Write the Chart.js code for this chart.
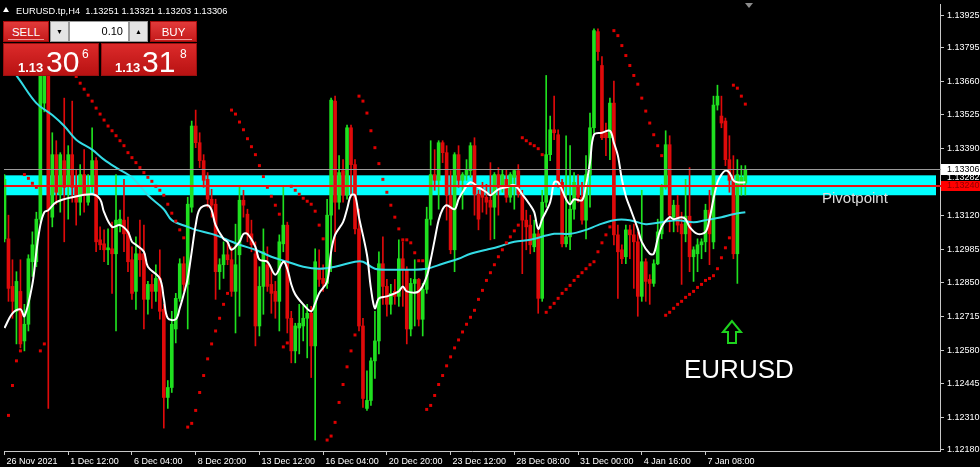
<!DOCTYPE html>
<html>
<head>
<meta charset="utf-8">
<title>EURUSD H4</title>
<script src="https://cdn.jsdelivr.net/npm/chart.js@4.4.1/dist/chart.umd.min.js"></script>
<style>
  body { margin: 0; background: #000; overflow: hidden; }
  #wrap { position: relative; width: 980px; height: 467px; font-family: 'Liberation Sans', Arial, sans-serif; }
  #chart { position: absolute; left: 0; top: 0; display: block; }
  .abs { position: absolute; white-space: pre; line-height: 1; }
  #hdr { left: 16px; top: 6px; color: #fff; font-size: 9.3px; line-height: 11px; }
  #hdrTri { left: 3px; top: 7px; width: 0; height: 0; border-left: 3px solid transparent; border-right: 3px solid transparent; border-bottom: 5px solid #fff; }
  #shiftTri { left: 745px; top: 3px; width: 0; height: 0; border-left: 4px solid transparent; border-right: 4px solid transparent; border-top: 5px solid #8c8c8c; }
  .btn { position: absolute; top: 21px; height: 21px; color: #fff; font-size: 11.5px; line-height: 20px; text-align: center;
         background: linear-gradient(#e23a3a, #c41a1a); box-sizing: border-box; border: 1px solid #a80c0c; }
  .btn::after { content: ''; position: absolute; left: 4px; right: 4px; bottom: 1px; height: 1px; background: #f09a9a; }
  .spin { position: absolute; top: 21px; height: 21px; width: 19px; background: #e4e4e4; box-sizing: border-box; border: 1px solid #9a9a9a;
          font-size: 7px; color: #000; text-align: center; line-height: 19px; }
  #lot { position: absolute; left: 69px; top: 21px; width: 60px; height: 21px; background: #fff; box-sizing: border-box; border: 1px solid #9a9a9a;
         font-size: 11px; color: #000; text-align: right; padding-right: 5px; line-height: 19px; }
  .quote { position: absolute; top: 43px; height: 33px; width: 96px; box-sizing: border-box; border: 1px solid #9a1010;
           background: linear-gradient(#dc2a2a, #b81212); color: #fff; }
  .quote .big { position: absolute; top: 1px; font-size: 30px; }
  .quote .pre { position: absolute; top: 16px; font-size: 13px; font-weight: bold; }
  .quote .sup { position: absolute; top: 3px; font-size: 12px; }
  #pivotTxt { left: 822px; top: 190px; color: #dcdcdc; font-size: 15px; }
  #symTxt { left: 684px; top: 356px; color: #fff; font-size: 26px; }
  #arrow { position: absolute; left: 720px; top: 319px; }
</style>
</head>
<body>
<div id="wrap">
  <canvas id="chart" width="980" height="467"></canvas>

  <div id="hdrTri" class="abs"></div>
  <div id="hdr" class="abs">EURUSD.tp,H4  1.13251 1.13321 1.13203 1.13306</div>
  <div id="shiftTri" class="abs"></div>

  <div class="btn" style="left:3px;width:46px;">SELL</div>
  <div class="spin" style="left:50px;">&#9660;</div>
  <div id="lot">0.10</div>
  <div class="spin" style="left:129px;">&#9650;</div>
  <div class="btn" style="left:150px;width:47px;">BUY</div>

  <div class="quote" style="left:3px;">
    <span class="pre" style="left:14px;">1.13</span>
    <span class="big" style="left:42px;">30</span>
    <span class="sup" style="left:78px;">6</span>
  </div>
  <div class="quote" style="left:101px;">
    <span class="pre" style="left:13px;">1.13</span>
    <span class="big" style="left:40px;">31</span>
    <span class="sup" style="left:78px;">8</span>
  </div>

  <div id="pivotTxt" class="abs">Pivotpoint</div>
  <div id="symTxt" class="abs">EURUSD</div>
  <svg id="arrow" width="24" height="27" viewBox="0 0 24 27">
    <polygon points="12,2 3,13 8,13 8,24 16,24 16,13 21,13" fill="none" stroke="#1ed21e" stroke-width="2"/>
  </svg>
</div>

<script>
// H4 bars, 26 Nov 2021 20:00 .. 10 Jan 2022
const barOpen = [
  1.13027,1.13027,1.12836,1.12736,1.12816,1.12617,1.12684,1.12935,1.12935,1.13106,
  1.13572,1.13779,1.13114,1.13365,1.13206,1.13341,1.13242,1.13365,1.13234,1.13174,
  1.13285,1.13174,1.13242,1.13341,1.13023,1.13007,1.12983,1.12987,1.12967,1.13082,
  1.13102,1.13055,1.12943,1.12816,1.12967,1.12967,1.12784,1.12844,1.12816,1.12868,
  1.12744,1.12390,1.12430,1.12665,1.12788,1.12927,1.12844,1.13154,1.13480,1.13413,
  1.13341,1.13266,1.13186,1.13166,1.12895,1.12923,1.12963,1.12943,1.12816,1.12963,
  1.13182,1.13126,1.13047,1.12967,1.12677,1.12836,1.12923,1.12844,1.12816,1.12776,
  1.13007,1.13082,1.12708,1.12577,1.12669,1.12677,1.12708,1.12728,1.12597,1.12903,
  1.12868,1.12848,1.13122,1.13580,1.13174,1.13301,1.13202,1.13473,1.13325,1.13067,
  1.12677,1.12346,1.12378,1.12537,1.12617,1.12927,1.12836,1.12764,1.12816,1.12796,
  1.12947,1.12903,1.12665,1.12848,1.12864,1.12704,1.12824,1.13106,1.13285,1.13262,
  1.13413,1.13373,1.13202,1.12983,1.13365,1.13262,1.13285,1.13301,1.13401,1.13206,
  1.13226,1.13194,1.13182,1.13154,1.13285,1.13234,1.13266,1.13194,1.13274,1.13301,
  1.13206,1.13102,1.13082,1.12995,1.13047,1.12788,1.13174,1.13365,1.13465,1.13445,
  1.13254,1.13007,1.13035,1.13146,1.13242,1.13194,1.13102,1.13285,1.13473,1.13859,
  1.13723,1.13453,1.13433,1.13572,1.13043,1.12983,1.12955,1.13063,1.13043,1.13015,
  1.12796,1.12935,1.12864,1.12848,1.12927,1.13047,1.13234,1.13405,1.13114,1.13162,
  1.13086,1.13047,1.13118,1.12955,1.12967,1.13003,1.13015,1.13142,1.13015,1.13564,
  1.13520,1.13500,1.13345,1.13262,1.12967,1.13242,1.13251
];
const barHigh = [
  1.13285,1.13122,1.12943,1.12895,1.12943,1.12764,1.12963,1.13055,1.13134,1.13751,
  1.13791,1.13791,1.13453,1.13421,1.13373,1.13592,1.13401,1.13580,1.13305,1.13325,
  1.13385,1.13285,1.13473,1.13353,1.13075,1.13063,1.13067,1.13094,1.13285,1.13142,
  1.13266,1.13114,1.12995,1.13035,1.13102,1.13082,1.12856,1.12883,1.12923,1.12983,
  1.12764,1.12458,1.12736,1.12808,1.12947,1.12955,1.13194,1.13500,1.13544,1.13453,
  1.13365,1.13293,1.13226,1.13186,1.12947,1.13015,1.13015,1.12995,1.13086,1.13234,
  1.13222,1.13146,1.13102,1.13015,1.12915,1.13067,1.12995,1.12907,1.12856,1.13043,
  1.13234,1.13094,1.12736,1.12688,1.12764,1.12764,1.12764,1.12756,1.12987,1.12983,
  1.12923,1.13186,1.13592,1.13600,1.13361,1.13345,1.13484,1.13484,1.13345,1.13146,
  1.12708,1.12497,1.12549,1.12736,1.12975,1.13035,1.12864,1.12844,1.12864,1.13023,
  1.13015,1.12915,1.12868,1.12943,1.12868,1.12848,1.13154,1.13421,1.13385,1.13421,
  1.13421,1.13401,1.13301,1.13373,1.13401,1.13293,1.13345,1.13413,1.13433,1.13222,
  1.13254,1.13246,1.13333,1.13293,1.13313,1.13305,1.13305,1.13293,1.13305,1.13325,
  1.13222,1.13142,1.13122,1.13102,1.13063,1.13222,1.13683,1.13520,1.13600,1.13465,
  1.13266,1.13441,1.13401,1.13293,1.13285,1.13254,1.13361,1.13532,1.13870,1.13870,
  1.13759,1.13492,1.13592,1.13660,1.13082,1.13003,1.13082,1.13082,1.13086,1.13055,
  1.13222,1.12947,1.12883,1.12943,1.13106,1.13246,1.13461,1.13441,1.13182,1.13202,
  1.13134,1.13266,1.13313,1.12995,1.13027,1.13027,1.13166,1.13222,1.13600,1.13644,
  1.13600,1.13512,1.13441,1.13361,1.13345,1.13321,1.13321
];
const barLow = [
  1.13015,1.12776,1.12708,1.12605,1.12589,1.12577,1.12657,1.12876,1.12915,1.13094,
  1.13537,1.12346,1.13075,1.13166,1.13134,1.13015,1.13106,1.13174,1.13082,1.13122,
  1.13134,1.13162,1.13214,1.12975,1.12983,1.12935,1.12923,1.12808,1.12657,1.13055,
  1.12975,1.12895,1.12784,1.12744,1.12876,1.12665,1.12724,1.12748,1.12776,1.12704,
  1.12267,1.12346,1.12410,1.12609,1.12776,1.12816,1.12665,1.13134,1.13393,1.13313,
  1.13234,1.13154,1.13114,1.12784,1.12824,1.12868,1.12923,1.12796,1.12649,1.12716,
  1.13114,1.13015,1.12975,1.12597,1.12637,1.12724,1.12816,1.12728,1.12708,1.12657,
  1.12975,1.12649,1.12529,1.12529,1.12565,1.12617,1.12549,1.12470,1.12219,1.12836,
  1.12816,1.12828,1.12895,1.12975,1.13146,1.13174,1.13186,1.13194,1.13047,1.12657,
  1.12350,1.12338,1.12358,1.12466,1.12565,1.12764,1.12716,1.12724,1.12764,1.12756,
  1.12756,1.12605,1.12637,1.12677,1.12677,1.12637,1.12808,1.13082,1.13222,1.13146,
  1.13333,1.13102,1.12967,1.12895,1.13234,1.13146,1.13262,1.13274,1.13122,1.13063,
  1.13134,1.13126,1.13023,1.13027,1.13122,1.13214,1.13174,1.13174,1.13146,1.13194,
  1.12887,1.12983,1.12967,1.12975,1.12728,1.12776,1.13154,1.13341,1.13425,1.13234,
  1.12995,1.12995,1.12983,1.13106,1.13174,1.13086,1.13027,1.13154,1.13453,1.13743,
  1.13425,1.13361,1.13345,1.13003,1.12788,1.12927,1.12927,1.12947,1.12828,1.12716,
  1.12776,1.12776,1.12764,1.12836,1.12923,1.13027,1.13226,1.13055,1.13055,1.13055,
  1.12844,1.13015,1.12895,1.12856,1.12895,1.12947,1.12975,1.12923,1.12987,1.13544,
  1.13473,1.13321,1.13214,1.12947,1.12848,1.13202,1.13203
];
const barClose = [
  1.13266,1.12828,1.12776,1.12856,1.12605,1.12684,1.12947,1.13003,1.13106,1.13731,
  1.13779,1.13146,1.13365,1.13214,1.13365,1.13234,1.13365,1.13234,1.13174,1.13285,
  1.13202,1.13242,1.13341,1.13015,1.13003,1.12983,1.12991,1.12967,1.13102,1.13106,
  1.13047,1.12935,1.12808,1.12967,1.12943,1.12784,1.12844,1.12816,1.12868,1.12736,
  1.12390,1.12430,1.12684,1.12788,1.12927,1.12844,1.13166,1.13480,1.13413,1.13341,
  1.13262,1.13186,1.13162,1.12895,1.12923,1.12963,1.12943,1.12816,1.12923,1.13182,
  1.13162,1.13047,1.13003,1.12677,1.12836,1.12975,1.12836,1.12808,1.12776,1.13015,
  1.13082,1.12708,1.12577,1.12677,1.12688,1.12708,1.12728,1.12597,1.12935,1.12864,
  1.12848,1.13122,1.13584,1.13174,1.13293,1.13202,1.13473,1.13325,1.13067,1.12677,
  1.12386,1.12378,1.12537,1.12617,1.12927,1.12836,1.12764,1.12808,1.12796,1.12947,
  1.12903,1.12665,1.12848,1.12864,1.12704,1.12824,1.13106,1.13285,1.13262,1.13413,
  1.13373,1.13202,1.12983,1.13365,1.13262,1.13285,1.13305,1.13401,1.13206,1.13106,
  1.13194,1.13174,1.13154,1.13285,1.13234,1.13285,1.13194,1.13285,1.13301,1.13206,
  1.13102,1.13075,1.13003,1.13047,1.12788,1.13174,1.13365,1.13465,1.13453,1.13254,
  1.13007,1.13035,1.13146,1.13254,1.13194,1.13102,1.13285,1.13473,1.13863,1.13779,
  1.13433,1.13433,1.13572,1.13043,1.12975,1.12947,1.13063,1.13043,1.13015,1.12796,
  1.12935,1.12856,1.12848,1.12927,1.13055,1.13234,1.13405,1.13122,1.13162,1.13082,
  1.13047,1.13118,1.12955,1.12983,1.13003,1.13015,1.13142,1.13047,1.13564,1.13600,
  1.13492,1.13345,1.13262,1.12967,1.13285,1.13274,1.13306
];

// Parabolic SAR, one dot per bar (null = not visible)
const sarValues = [
  null,1.12318,1.12438,1.12537,1.12577,1.13285,1.13270,1.13250,1.13234,1.12577,
  1.12605,1.13791,1.13787,1.13779,1.13767,1.13751,1.13731,1.13707,1.13679,1.13652,
  1.13628,1.13604,1.13580,1.13552,1.13528,1.13504,1.13480,1.13461,1.13441,1.13421,
  1.13401,1.13373,1.13353,1.13333,1.13313,1.13293,1.13274,1.13258,1.13238,1.13222,
  1.13202,1.13166,1.13130,1.13098,1.13063,1.13031,1.12271,1.12286,1.12338,1.12410,
  1.12478,1.12545,1.12605,1.12657,1.12708,1.12764,1.12808,1.13544,1.13528,1.13496,
  1.13465,1.13429,1.13397,1.13365,1.13321,1.13277,1.13234,1.13198,1.13162,1.13126,
  1.12593,1.12609,1.13238,1.13222,1.13206,1.13190,1.13178,1.13166,1.13138,1.13082,
  1.13027,1.12219,1.12235,1.12290,1.12370,1.12442,1.12513,1.12577,1.12641,1.13600,
  1.13580,1.13532,1.13461,1.13393,1.13329,1.13266,1.13214,1.13162,1.13114,1.13067,
  1.13023,1.13023,1.13011,1.12971,1.12939,1.12939,1.12342,1.12358,1.12398,1.12442,
  1.12478,1.12517,1.12553,1.12589,1.12621,1.12653,1.12684,1.12712,1.12740,1.12784,
  1.12820,1.12860,1.12891,1.12923,1.12955,1.12983,1.13011,1.13035,1.13059,1.13082,
  1.13433,1.13421,1.13409,1.13401,1.13389,1.13365,1.12732,1.12752,1.12768,1.12788,
  1.12808,1.12824,1.12840,1.12860,1.12876,1.12891,1.12907,1.12923,1.12935,1.12975,
  1.13011,1.13043,1.13075,1.13863,1.13843,1.13803,1.13763,1.13723,1.13683,1.13648,
  1.13592,1.13540,1.13492,1.13445,1.13401,1.13361,1.12720,1.12732,1.12748,1.12764,
  1.12776,1.12792,1.12804,1.12816,1.12832,1.12844,1.12860,1.12868,1.12879,1.12907,
  1.12951,1.12991,1.13031,1.13644,1.13632,1.13600,1.13568
];

// fast moving average (white), sampled along the curve
const fastMaBars = [0,2,4,5,7,8,9,10,11,13,17,22,24,25,27,29,31,32,33,35,36,39,40,41,43,44,45,46,47,48,49,51,52,53,55,56,57,59,60,61,
  63,64,66,68,70,71,72,73,75,77,78,79,81,82,83,85,86,87,88,89,91,92,93,94,96,99,100,101,104,106,107,108,109,110,111,113,114,115,117,119,
  121,122,124,126,128,130,132,133,134,135,137,138,139,141,142,143,145,146,147,148,150,152,153,154,155,156,157,159,160,162,163,164,165,167,168,170,171,172,174,176,
  177,178,179,180,181,182,183,184,186];
const fastMaValues = [1.12669,1.12728,1.12744,1.12716,1.12844,1.12975,1.13082,1.13134,1.13142,1.13174,1.13194,1.13206,1.13186,1.13134,1.13075,1.13082,1.13055,1.13015,1.13003,1.12975,
  1.12915,1.12868,1.12788,1.12708,1.12704,1.12748,1.12804,1.12868,1.12975,1.13082,1.13146,1.13162,1.13142,1.13082,1.13027,1.13015,1.12983,1.13015,1.13047,1.13047,
  1.12995,1.12943,1.12935,1.12883,1.12935,1.12907,1.12844,1.12804,1.12764,1.12736,1.12768,1.12808,1.12856,1.12975,1.13043,1.13094,1.13146,1.13202,1.13202,1.13114,
  1.12963,1.12828,1.12748,1.12788,1.12796,1.12816,1.12836,1.12816,1.12816,1.12876,1.12943,1.13023,1.13102,1.13146,1.13162,1.13146,1.13186,1.13214,1.13254,1.13234,
  1.13214,1.13202,1.13226,1.13234,1.13242,1.13206,1.13162,1.13134,1.13067,1.13106,1.13174,1.13254,1.13254,1.13186,1.13166,1.13186,1.13182,1.13242,1.13333,1.13445,
  1.13453,1.13461,1.13413,1.13361,1.13266,1.13198,1.13154,1.13067,1.13015,1.12967,1.12967,1.13027,1.13075,1.13114,1.13106,1.13114,1.13106,1.13075,1.13047,1.13055,
  1.13106,1.13186,1.13254,1.13285,1.13301,1.13293,1.13262,1.13254,1.13254];

// slow moving average (cyan)
const slowMaBars = [0,2,4,8,12,15,18,22,25,28,32,36,40,42,46,48,52,56,59,63,67,71,75,79,83,88,90,93,97,102,106,110,114,117,121,124,128,132,138,142,
  146,149,153,157,161,165,169,173,176,180,183,186];
const slowMaValues = [1.13751,1.13707,1.13660,1.13572,1.13524,1.13480,1.13425,1.13385,1.13345,1.13313,1.13274,1.13202,1.13146,1.13102,1.13075,1.13063,1.13047,1.13023,1.13003,1.12983,
  1.12955,1.12935,1.12915,1.12907,1.12915,1.12935,1.12935,1.12907,1.12903,1.12903,1.12907,1.12927,1.12947,1.12967,1.12983,1.12995,1.13015,1.13023,1.13047,1.13047,
  1.13063,1.13082,1.13102,1.13102,1.13086,1.13094,1.13102,1.13094,1.13102,1.13114,1.13126,1.13134];

// horizontal levels
const pivotPrice = 1.13240;
const pivotZoneHigh = 1.13282;
const pivotZoneLow = 1.13202;
const bidPrice = barClose[barClose.length - 1];

// axis labels
const priceTicks = [1.13925, 1.13795, 1.13660, 1.13525, 1.13390, 1.13120, 1.12985, 1.12850, 1.12715, 1.12580, 1.12445, 1.12310, 1.12180];
const timeTickBars = [0, 16, 32, 48, 64, 80, 96, 112, 128, 144, 160, 176];
const timeTickLabels = ['26 Nov 2021', '1 Dec 12:00', '6 Dec 04:00', '8 Dec 20:00', '13 Dec 12:00', '16 Dec 04:00',
  '20 Dec 20:00', '23 Dec 12:00', '28 Dec 08:00', '31 Dec 00:00', '4 Jan 16:00', '7 Jan 08:00'];

const UP = '#1fe01f';
const DOWN = '#e00a0a';

const bodies = barOpen.map((o, i) => ({ x: i, y: [o, barClose[i]] }));
const wicks = barOpen.map((o, i) => ({ x: i, y: [barLow[i], barHigh[i]] }));
const barColor = barOpen.map((o, i) => (barClose[i] >= o ? UP : DOWN));
const sarPoints = sarValues.map((v, i) => ({ x: i, y: v })).filter(p => p.y !== null);
const fastMa = fastMaBars.map((b, i) => ({ x: b, y: fastMaValues[i] }));
const slowMa = slowMaBars.map((b, i) => ({ x: b, y: slowMaValues[i] }));

// pivot zone, pivot line, bid line and the price boxes on the axis
const levelsPlugin = {
  id: 'levels',
  beforeDatasetsDraw(chart) {
    const { ctx, chartArea: a, scales: { y } } = chart;
    const t = y.getPixelForValue(pivotZoneHigh);
    const b = y.getPixelForValue(pivotZoneLow);
    ctx.save();
    ctx.fillStyle = '#00ffff';
    ctx.fillRect(a.left, t, a.right - a.left - 4, b - t);
    ctx.restore();
  },
  afterDatasetsDraw(chart) {
    const { ctx, chartArea: a, scales: { y } } = chart;
    ctx.save();
    ctx.strokeStyle = '#9a9a9a';
    ctx.lineWidth = 1;
    const yb = Math.round(y.getPixelForValue(bidPrice)) + 0.5;
    ctx.beginPath(); ctx.moveTo(a.left, yb); ctx.lineTo(a.right + 2, yb); ctx.stroke();
    ctx.strokeStyle = '#e81010';
    ctx.lineWidth = 2;
    const yp = Math.round(y.getPixelForValue(pivotPrice));
    ctx.beginPath(); ctx.moveTo(a.left, yp); ctx.lineTo(a.right + 2, yp); ctx.stroke();
    ctx.restore();
  },
  afterDraw(chart) {
    const { ctx, chartArea: a, scales: { y } } = chart;
    const x0 = a.right + 1;
    ctx.save();
    ctx.font = "9px 'Liberation Sans', Arial, sans-serif";
    ctx.textBaseline = 'middle';
    ctx.fillStyle = '#ffffff';
    ctx.fillText(pivotZoneHigh.toFixed(5), a.right + 7, y.getPixelForValue(pivotZoneHigh) + 2);
    const yp = Math.round(y.getPixelForValue(pivotPrice));
    ctx.fillStyle = '#ff0000';
    ctx.fillRect(x0, yp - 5, 980 - x0, 10);
    ctx.fillStyle = '#8c0000';
    ctx.fillText(pivotPrice.toFixed(5), a.right + 7, yp);
    const yb = Math.round(y.getPixelForValue(bidPrice));
    ctx.fillStyle = '#ffffff';
    ctx.fillRect(x0, yb - 5, 980 - x0, 11);
    ctx.fillStyle = '#000000';
    ctx.fillText(bidPrice.toFixed(5), a.right + 7, yb + 0.5);
    ctx.restore();
  }
};

Chart.defaults.font.family = "'Liberation Sans', Arial, sans-serif";
Chart.defaults.font.size = 9;
Chart.defaults.color = '#ffffff';

const ctx = document.getElementById('chart').getContext('2d');
new Chart(ctx, {
  type: 'bar',
  data: {
    datasets: [
      {
        type: 'line', label: 'SAR', data: sarPoints, showLine: false,
        pointStyle: 'rect', pointRadius: 2.1, pointBackgroundColor: '#e00000', pointBorderWidth: 0, order: 1
      },
      {
        type: 'line', label: 'MA fast', data: fastMa, borderColor: '#ffffff', borderWidth: 2,
        pointRadius: 0, tension: 0.35, order: 2
      },
      {
        type: 'line', label: 'MA slow', data: slowMa, borderColor: '#33dce6', borderWidth: 2,
        pointRadius: 0, tension: 0.35, order: 3
      },
      {
        label: 'body', data: bodies, backgroundColor: barColor, barThickness: 3, grouped: false, borderWidth: 0, order: 5
      },
      {
        label: 'wick', data: wicks, backgroundColor: barColor, barThickness: 1, grouped: false, borderWidth: 0, order: 6
      }
    ]
  },
  options: {
    responsive: false,
    animation: false,
    devicePixelRatio: 1,
    layout: { padding: 0 },
    plugins: { legend: { display: false }, tooltip: { enabled: false } },
    scales: {
      x: {
        type: 'linear',
        min: -0.125,
        max: 234.875,
        offset: false,
        afterBuildTicks: axis => { axis.ticks = timeTickBars.map(v => ({ value: v })); },
        afterFit: axis => { axis.height = 16; axis.paddingLeft = 0; axis.paddingRight = 0; },
        grid: { display: true, drawOnChartArea: false, drawTicks: true, tickLength: 4, color: '#c8c8c8', offset: false },
        border: { display: true, color: '#c8c8c8' },
        ticks: {
          autoSkip: false, maxRotation: 0, align: 'start', labelOffset: 2, padding: 1, color: '#ffffff',
          callback: v => timeTickLabels[timeTickBars.indexOf(v)]
        }
      },
      y: {
        position: 'right',
        min: 1.12175,
        max: 1.13970,
        afterBuildTicks: axis => { axis.ticks = priceTicks.map(v => ({ value: v })); },
        afterFit: axis => { axis.width = 40; axis.paddingTop = 0; axis.paddingBottom = 0; },
        grid: { display: true, drawOnChartArea: false, drawTicks: true, tickLength: 4, color: '#c8c8c8' },
        border: { display: true, color: '#c8c8c8' },
        ticks: { padding: 3, color: '#ffffff', callback: v => v.toFixed(5) }
      }
    }
  },
  plugins: [levelsPlugin]
});
</script>
</body>
</html>
